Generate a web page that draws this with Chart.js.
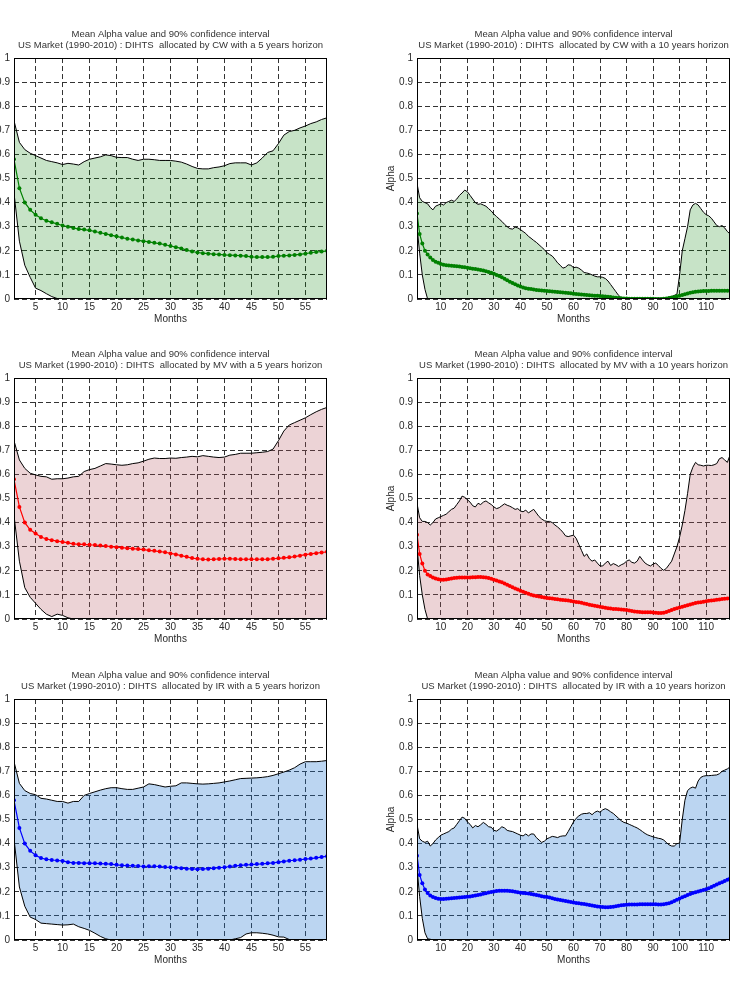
<!DOCTYPE html>
<html>
<head>
<meta charset="utf-8">
<script src="https://cdn.jsdelivr.net/npm/chart.js@4"></script>
<style>
  body { margin: 0; width: 740px; height: 995px; overflow: hidden; background: #fff; position: relative; }
  canvas { position: absolute; }
</style>
</head>
<body>
<canvas id="cw5" width="365" height="309" style="left:-33px;top:20px"></canvas>
<canvas id="cw10" width="365" height="309" style="left:370px;top:20px"></canvas>
<canvas id="mv5" width="365" height="309" style="left:-33px;top:340px"></canvas>
<canvas id="mv10" width="365" height="309" style="left:370px;top:340px"></canvas>
<canvas id="ir5" width="365" height="309" style="left:-33px;top:661px"></canvas>
<canvas id="ir10" width="365" height="309" style="left:370px;top:661px"></canvas>
<script>
// months on the x axis
const months5 = Array.from({ length: 59 }, (_, i) => i + 1);
const months10 = Array.from({ length: 119 }, (_, i) => i + 1);
const xTicks5 = [5, 10, 15, 20, 25, 30, 35, 40, 45, 50, 55];
const xTicks10 = [10, 20, 30, 40, 50, 60, 70, 80, 90, 100, 110];
const yTicks = [0, 0.1, 0.2, 0.3, 0.4, 0.5, 0.6, 0.7, 0.8, 0.9, 1];

// CW, 5 years
const cw5Mean = [
  0.58, 0.46, 0.40, 0.37, 0.35, 0.335, 0.325, 0.318, 0.312, 0.305,
  0.30, 0.295, 0.29, 0.288, 0.285, 0.28, 0.275, 0.27, 0.265, 0.26,
  0.255, 0.25, 0.247, 0.243, 0.24, 0.237, 0.233, 0.23, 0.225, 0.22,
  0.215, 0.21, 0.203, 0.197, 0.193, 0.19, 0.188, 0.186, 0.185, 0.183,
  0.182, 0.181, 0.18, 0.178, 0.175, 0.174, 0.174, 0.174, 0.175, 0.178,
  0.18, 0.181, 0.183, 0.185, 0.188, 0.192, 0.195, 0.197, 0.2
];
const cw5Upper = [
  0.74, 0.65, 0.62, 0.605, 0.595, 0.585, 0.575, 0.57, 0.565, 0.558,
  0.563, 0.56, 0.556, 0.57, 0.58, 0.585, 0.59, 0.598, 0.595, 0.588,
  0.587, 0.587, 0.58, 0.575, 0.58, 0.58, 0.578, 0.575, 0.575, 0.575,
  0.572, 0.568, 0.56, 0.55, 0.542, 0.54, 0.54, 0.545, 0.548, 0.553,
  0.562, 0.565, 0.565, 0.565, 0.556, 0.565, 0.585, 0.608, 0.615, 0.645,
  0.68, 0.695, 0.7, 0.71, 0.718, 0.728, 0.735, 0.745, 0.752
];
const cw5Lower = [
  0.44, 0.24, 0.14, 0.09, 0.045, 0.035, 0.022, 0.01, 0.002, 0,
  0, 0, 0, 0, 0, 0, 0, 0, 0, 0,
  0, 0, 0, 0, 0, 0, 0, 0, 0, 0,
  0, 0, 0, 0, 0, 0, 0, 0, 0, 0,
  0, 0, 0, 0, 0, 0, 0, 0, 0, 0,
  0, 0, 0, 0, 0, 0, 0, 0, 0
];

// CW, 10 years
const cw10Mean = [
  0.355, 0.27, 0.23, 0.20, 0.185, 0.172, 0.162, 0.155, 0.15, 0.145,
  0.142, 0.14, 0.139, 0.138, 0.137, 0.136, 0.135, 0.133, 0.132, 0.13,
  0.128, 0.126, 0.124, 0.122, 0.12, 0.118, 0.115, 0.112, 0.109, 0.105,
  0.10, 0.095, 0.09, 0.084, 0.078, 0.072, 0.066, 0.061, 0.056, 0.052,
  0.048, 0.045, 0.043, 0.041, 0.039, 0.037, 0.036, 0.035, 0.034, 0.033,
  0.032, 0.031, 0.03, 0.029, 0.028, 0.027, 0.026, 0.025, 0.024, 0.022,
  0.021, 0.02, 0.019, 0.018, 0.017, 0.016, 0.015, 0.014, 0.013, 0.012,
  0.011, 0.01, 0.009, 0.008, 0.006, 0.005, 0.004, 0.003, 0.002, 0.002,
  0.001, 0.001, 0.001, 0.001, 0.001, 0.001, 0.001, 0.001, 0.001, 0.001,
  0, 0, 0, 0.001, 0.002, 0.004, 0.006, 0.008, 0.011, 0.014,
  0.017, 0.02, 0.023, 0.026, 0.028, 0.03, 0.031, 0.032, 0.033, 0.033,
  0.033, 0.034, 0.034, 0.034, 0.034, 0.034, 0.034, 0.034, 0.034
];
const cw10Upper = [
  0.48, 0.42, 0.405, 0.40, 0.395, 0.38, 0.37, 0.385, 0.39, 0.395,
  0.39, 0.40, 0.405, 0.41, 0.405, 0.415, 0.43, 0.44, 0.452, 0.445,
  0.43, 0.415, 0.40, 0.393, 0.395, 0.39, 0.385, 0.375, 0.365, 0.352,
  0.342, 0.332, 0.322, 0.31, 0.30, 0.292, 0.29, 0.298, 0.295, 0.288,
  0.28, 0.272, 0.26, 0.252, 0.243, 0.235, 0.225, 0.215, 0.205, 0.192,
  0.185, 0.178, 0.165, 0.15, 0.14, 0.128, 0.132, 0.142, 0.14, 0.13,
  0.132, 0.128, 0.12, 0.11, 0.108, 0.105, 0.10, 0.095, 0.092, 0.092,
  0.09, 0.085, 0.075, 0.06, 0.045, 0.03, 0.015, 0.005, 0.003, 0.003,
  0.003, 0.003, 0.003, 0.003, 0.003, 0.003, 0.003, 0.003, 0.003, 0.003,
  0.003, 0.003, 0.003, 0.003, 0.005, 0.008, 0.01, 0.015, 0.02, 0.1,
  0.2, 0.25, 0.30, 0.37, 0.39, 0.397, 0.39, 0.375, 0.36, 0.35,
  0.345, 0.335, 0.32, 0.305, 0.30, 0.305, 0.295, 0.28, 0.27
];
const cw10Lower = [
  0.3, 0.19, 0.1, 0.04, 0, 0, 0, 0, 0, 0,
  0, 0, 0, 0, 0, 0, 0, 0, 0, 0,
  0, 0, 0, 0, 0, 0, 0, 0, 0, 0,
  0, 0, 0, 0, 0, 0, 0, 0, 0, 0,
  0, 0, 0, 0, 0, 0, 0, 0, 0, 0,
  0, 0, 0, 0, 0, 0, 0, 0, 0, 0,
  0, 0, 0, 0, 0, 0, 0, 0, 0, 0,
  0, 0, 0, 0, 0, 0, 0, 0, 0, 0,
  0, 0, 0, 0, 0, 0, 0, 0, 0, 0,
  0, 0, 0, 0, 0, 0, 0, 0, 0, 0,
  0, 0, 0, 0, 0, 0, 0, 0, 0, 0,
  0, 0, 0, 0, 0, 0, 0, 0, 0
];

// MV, 5 years
const mv5Mean = [
  0.58, 0.465, 0.40, 0.37, 0.355, 0.34, 0.332, 0.327, 0.323, 0.32,
  0.316, 0.312, 0.31, 0.31, 0.308, 0.307, 0.305, 0.303, 0.30, 0.298,
  0.296, 0.294, 0.292, 0.29, 0.288, 0.285, 0.283, 0.28, 0.277, 0.272,
  0.268, 0.263, 0.258, 0.253, 0.25, 0.248, 0.247, 0.248, 0.249, 0.25,
  0.25, 0.249, 0.248, 0.248, 0.248, 0.248, 0.248, 0.248, 0.25, 0.252,
  0.254, 0.256, 0.259, 0.263, 0.267, 0.27, 0.273, 0.276, 0.279
];
const mv5Upper = [
  0.74, 0.66, 0.625, 0.605, 0.598, 0.592, 0.59, 0.58, 0.582, 0.582,
  0.585, 0.59, 0.592, 0.612, 0.62, 0.625, 0.635, 0.645, 0.643, 0.64,
  0.638, 0.64, 0.645, 0.648, 0.655, 0.663, 0.668, 0.666, 0.666, 0.668,
  0.667, 0.67, 0.672, 0.675, 0.673, 0.678, 0.675, 0.672, 0.67, 0.672,
  0.68, 0.683, 0.688, 0.688, 0.688, 0.69, 0.692, 0.695, 0.705, 0.74,
  0.78, 0.805, 0.815, 0.825, 0.835, 0.848, 0.86, 0.87, 0.878
];
const mv5Lower = [
  0.43, 0.24, 0.13, 0.09, 0.065, 0.04, 0.02, 0.01, 0.02, 0.015,
  0.005, 0, 0, 0, 0, 0, 0, 0, 0, 0,
  0, 0, 0, 0, 0, 0, 0, 0, 0, 0,
  0, 0, 0, 0, 0, 0, 0, 0, 0, 0,
  0, 0, 0, 0, 0, 0, 0, 0, 0, 0,
  0, 0, 0, 0, 0, 0, 0, 0, 0
];

// MV, 10 years
const mv10Mean = [
  0.35, 0.27, 0.23, 0.20, 0.185, 0.178, 0.172, 0.168, 0.165, 0.163,
  0.163, 0.164, 0.166, 0.168, 0.17, 0.171, 0.172, 0.172, 0.172, 0.172,
  0.172, 0.173, 0.173, 0.174, 0.174, 0.173, 0.172, 0.17, 0.167, 0.163,
  0.16, 0.156, 0.152, 0.147, 0.142, 0.137, 0.132, 0.127, 0.122, 0.117,
  0.113, 0.109, 0.105, 0.101, 0.098, 0.095, 0.093, 0.091, 0.089, 0.087,
  0.086, 0.085, 0.083, 0.082, 0.08, 0.079, 0.078, 0.077, 0.075, 0.073,
  0.071, 0.069, 0.067, 0.064, 0.062, 0.059, 0.057, 0.055, 0.053, 0.051,
  0.049, 0.047, 0.045, 0.044, 0.042, 0.041, 0.04, 0.039, 0.038, 0.037,
  0.035, 0.033, 0.031, 0.03, 0.029, 0.028, 0.028, 0.028, 0.028, 0.027,
  0.026, 0.025, 0.025, 0.026, 0.029, 0.033, 0.037, 0.041, 0.045, 0.048,
  0.051, 0.054, 0.057, 0.06, 0.063, 0.066, 0.068, 0.07, 0.072, 0.074,
  0.076, 0.077, 0.078, 0.08, 0.081, 0.083, 0.084, 0.085, 0.086
];
const mv10Upper = [
  0.48, 0.42, 0.405, 0.405, 0.40, 0.39, 0.40, 0.415, 0.42, 0.425,
  0.43, 0.435, 0.445, 0.455, 0.46, 0.475, 0.49, 0.51, 0.505, 0.495,
  0.485, 0.47, 0.465, 0.48, 0.475, 0.485, 0.49, 0.482, 0.475, 0.465,
  0.458, 0.462, 0.47, 0.478, 0.472, 0.468, 0.462, 0.455, 0.458, 0.448,
  0.445, 0.452, 0.44, 0.448, 0.455, 0.44, 0.425, 0.415, 0.408, 0.405,
  0.405, 0.40, 0.39, 0.382, 0.372, 0.36, 0.345, 0.342, 0.345, 0.348,
  0.335, 0.31, 0.285, 0.26, 0.27, 0.25, 0.24, 0.245, 0.232, 0.22,
  0.22, 0.232, 0.24, 0.222, 0.23, 0.225, 0.218, 0.225, 0.23, 0.24,
  0.245, 0.235, 0.232, 0.24, 0.26, 0.245, 0.232, 0.225, 0.22, 0.228,
  0.232, 0.222, 0.21, 0.202, 0.21, 0.225, 0.24, 0.27, 0.30, 0.34,
  0.39, 0.45, 0.52, 0.60, 0.63, 0.65, 0.64, 0.638, 0.635, 0.638,
  0.638, 0.637, 0.64, 0.645, 0.665, 0.67, 0.66, 0.65, 0.68
];
const mv10Lower = [
  0.3, 0.18, 0.1, 0.04, 0, 0, 0, 0, 0, 0,
  0, 0, 0, 0, 0, 0, 0, 0, 0, 0,
  0, 0, 0, 0, 0, 0, 0, 0, 0, 0,
  0, 0, 0, 0, 0, 0, 0, 0, 0, 0,
  0, 0, 0, 0, 0, 0, 0, 0, 0, 0,
  0, 0, 0, 0, 0, 0, 0, 0, 0, 0,
  0, 0, 0, 0, 0, 0, 0, 0, 0, 0,
  0, 0, 0, 0, 0, 0, 0, 0, 0, 0,
  0, 0, 0, 0, 0, 0, 0, 0, 0, 0,
  0, 0, 0, 0, 0, 0, 0, 0, 0, 0,
  0, 0, 0, 0, 0, 0, 0, 0, 0, 0,
  0, 0, 0, 0, 0, 0, 0, 0, 0
];

// IR, 5 years
const ir5Mean = [
  0.58, 0.465, 0.40, 0.37, 0.352, 0.34, 0.335, 0.332, 0.33, 0.328,
  0.323, 0.32, 0.32, 0.319, 0.319, 0.318, 0.317, 0.316, 0.315, 0.312,
  0.31, 0.309, 0.308, 0.307, 0.305, 0.306, 0.306, 0.305, 0.303, 0.302,
  0.30, 0.298, 0.296, 0.295, 0.294, 0.295, 0.296, 0.298, 0.30, 0.302,
  0.305, 0.308, 0.31, 0.312, 0.313, 0.315, 0.316, 0.318, 0.32, 0.323,
  0.326, 0.329, 0.331, 0.333, 0.336, 0.338, 0.341, 0.344, 0.348
];
const ir5Upper = [
  0.74, 0.65, 0.62, 0.608, 0.603, 0.588, 0.585, 0.58, 0.575, 0.575,
  0.568, 0.575, 0.575, 0.60, 0.608, 0.615, 0.622, 0.628, 0.632, 0.632,
  0.628, 0.625, 0.625, 0.63, 0.635, 0.648, 0.645, 0.64, 0.635, 0.638,
  0.64, 0.652, 0.652, 0.65, 0.648, 0.647, 0.648, 0.65, 0.652, 0.656,
  0.66, 0.665, 0.67, 0.671, 0.672, 0.673, 0.675, 0.678, 0.683, 0.69,
  0.697, 0.705, 0.715, 0.73, 0.74, 0.74, 0.74, 0.742, 0.745
];
const ir5Lower = [
  0.42, 0.22, 0.14, 0.095, 0.085, 0.07, 0.068, 0.066, 0.064, 0.062,
  0.063, 0.066, 0.055, 0.048, 0.04, 0.028, 0.015, 0.005, 0, 0,
  0, 0, 0, 0, 0, 0, 0, 0, 0, 0,
  0, 0, 0, 0, 0, 0, 0, 0, 0, 0,
  0, 0.005, 0.01, 0.025, 0.03, 0.03, 0.028, 0.025, 0.02, 0.013,
  0.012, 0.002, 0, 0, 0, 0.002, 0, 0, 0
];

// IR, 10 years
const ir10Mean = [
  0.35, 0.27, 0.235, 0.21, 0.195, 0.185, 0.178, 0.174, 0.171, 0.17,
  0.17, 0.171, 0.172, 0.173, 0.174, 0.175, 0.176, 0.177, 0.178, 0.179,
  0.181, 0.183, 0.185, 0.187, 0.189, 0.192, 0.194, 0.197, 0.199, 0.201,
  0.203, 0.204, 0.204, 0.204, 0.204, 0.203, 0.202, 0.20, 0.198, 0.196,
  0.195, 0.194, 0.193, 0.191, 0.189, 0.187, 0.185, 0.182, 0.18, 0.178,
  0.176, 0.173, 0.17, 0.168, 0.166, 0.164, 0.162, 0.16, 0.158, 0.156,
  0.154, 0.152, 0.15, 0.149, 0.147, 0.145, 0.143, 0.141, 0.139, 0.138,
  0.137, 0.136, 0.136, 0.137, 0.138, 0.14, 0.142, 0.144, 0.145, 0.146,
  0.147, 0.147, 0.147, 0.147, 0.148, 0.148, 0.148, 0.148, 0.148, 0.148,
  0.148, 0.147, 0.147, 0.148, 0.15, 0.153, 0.157, 0.162, 0.167, 0.172,
  0.177, 0.182, 0.187, 0.191, 0.195, 0.198, 0.201, 0.204, 0.207, 0.211,
  0.215, 0.22, 0.225, 0.23, 0.235, 0.24, 0.245, 0.25, 0.255
];
const ir10Upper = [
  0.48, 0.42, 0.41, 0.405, 0.41, 0.39, 0.40, 0.415, 0.425, 0.435,
  0.44, 0.445, 0.45, 0.46, 0.465, 0.48, 0.495, 0.51, 0.505, 0.49,
  0.48, 0.465, 0.475, 0.47, 0.478, 0.488, 0.48, 0.47, 0.468, 0.455,
  0.452, 0.46, 0.47, 0.465, 0.455, 0.452, 0.45, 0.445, 0.44, 0.435,
  0.432, 0.44, 0.432, 0.44, 0.44, 0.425, 0.415, 0.405, 0.41, 0.42,
  0.425, 0.43, 0.428, 0.425, 0.43, 0.432, 0.432, 0.45, 0.47, 0.49,
  0.505, 0.515, 0.522, 0.525, 0.525, 0.528, 0.52, 0.53, 0.535, 0.53,
  0.54, 0.545, 0.54, 0.532, 0.525, 0.515, 0.505, 0.495, 0.488, 0.485,
  0.48, 0.475, 0.47, 0.465, 0.458, 0.45, 0.442, 0.436, 0.432, 0.428,
  0.425, 0.422, 0.42, 0.415, 0.405, 0.395, 0.39, 0.39, 0.40, 0.402,
  0.50, 0.58, 0.62, 0.63, 0.635, 0.63, 0.66, 0.675, 0.68, 0.682,
  0.682, 0.683, 0.684, 0.685, 0.69, 0.70, 0.705, 0.71, 0.718
];
const ir10Lower = [
  0.3, 0.18, 0.09, 0.03, 0.005, 0.003, 0.001, 0, 0, 0,
  0, 0, 0, 0, 0, 0, 0, 0, 0, 0,
  0, 0, 0, 0, 0, 0, 0, 0, 0, 0,
  0, 0, 0, 0, 0, 0, 0, 0, 0, 0,
  0, 0, 0, 0, 0, 0, 0, 0, 0, 0,
  0, 0, 0, 0, 0, 0, 0, 0, 0, 0,
  0, 0, 0, 0, 0, 0, 0, 0, 0, 0,
  0, 0, 0, 0, 0, 0, 0, 0, 0, 0,
  0, 0, 0, 0, 0, 0, 0, 0, 0, 0,
  0, 0, 0, 0, 0, 0, 0, 0, 0, 0,
  0, 0, 0, 0, 0, 0, 0, 0, 0, 0,
  0, 0, 0, 0, 0, 0, 0, 0, 0
];

Chart.defaults.font.family = "'Liberation Sans', Arial, sans-serif";
Chart.defaults.font.size = 10;
Chart.defaults.color = '#2a2a2a';

// black box round the plot area
const frame = {
  id: 'frame',
  afterDatasetsDraw(chart) {
    const { ctx, chartArea: a } = chart;
    ctx.save();
    ctx.strokeStyle = '#000';
    ctx.lineWidth = 1;
    ctx.strokeRect(Math.round(a.left) + 0.5, Math.round(a.top) + 0.5,
      Math.round(a.right - a.left) - 1, Math.round(a.bottom - a.top) - 1);
    ctx.restore();
  }
};

function makeChart(id, months, xTicks, mean, upper, lower, lineColor, fillColor, method, years) {
  const ctx = document.getElementById(id).getContext('2d');
  return new Chart(ctx, {
    type: 'line',
    data: {
      labels: months,
      datasets: [{
        data: mean,
        borderColor: lineColor,
        backgroundColor: lineColor,
        borderWidth: 1.2,
        pointRadius: 2,
        pointBorderWidth: 0,
        pointBackgroundColor: lineColor,
        fill: false,
        order: 0
      }, {
        data: upper,
        borderColor: '#000',
        borderWidth: 1,
        pointRadius: 0,
        backgroundColor: fillColor,
        fill: '+1',
        order: 1
      }, {
        data: lower,
        borderColor: '#000',
        borderWidth: 1,
        pointRadius: 0,
        fill: false,
        order: 2
      }]
    },
    options: {
      responsive: false,
      animation: false,
      layout: { padding: { left: 0, right: 5, top: 0, bottom: 0 } },
      plugins: {
        legend: { display: false },
        tooltip: { enabled: false },
        filler: { drawTime: 'beforeDatasetsDraw' },
        title: {
          display: true,
          fullSize: false,
          text: ['Mean Alpha value and 90% confidence interval',
            'US Market (1990-2010) : DIHTS  allocated by ' + method + ' with a ' + years + ' years horizon'],
          font: { size: 9.5, weight: 'normal', lineHeight: 1.16 },
          color: '#333',
          padding: { top: 9, bottom: 7 }
        }
      },
      scales: {
        x: {
          type: 'linear',
          min: 1,
          max: months[months.length - 1],
          afterBuildTicks: s => { s.ticks = xTicks.map(v => ({ value: v })); },
          afterFit: s => { s.height = 30; },
          grid: { color: '#333', lineWidth: 1, drawTicks: false },
          border: { display: false, dash: [5, 3] },
          ticks: { padding: 2, maxRotation: 0, autoSkip: false },
          title: { display: true, text: 'Months', padding: { top: 0, bottom: 4 } }
        },
        y: {
          min: 0,
          max: 1,
          afterBuildTicks: s => { s.ticks = yTicks.map(v => ({ value: v })); },
          afterFit: s => { s.width = 47; },
          grid: { color: '#333', lineWidth: 1, drawTicks: false },
          border: { display: false, dash: [5, 3] },
          ticks: { padding: 4, callback: v => String(v) },
          title: { display: true, text: 'Alpha', padding: { top: 15, bottom: 0 } }
        }
      }
    },
    plugins: [frame]
  });
}

makeChart('cw5', months5, xTicks5, cw5Mean, cw5Upper, cw5Lower, '#008000', 'rgba(0,128,0,0.22)', 'CW', 5);
makeChart('cw10', months10, xTicks10, cw10Mean, cw10Upper, cw10Lower, '#008000', 'rgba(0,128,0,0.22)', 'CW', 10);
makeChart('mv5', months5, xTicks5, mv5Mean, mv5Upper, mv5Lower, '#ff0000', 'rgba(180,80,90,0.25)', 'MV', 5);
makeChart('mv10', months10, xTicks10, mv10Mean, mv10Upper, mv10Lower, '#ff0000', 'rgba(180,80,90,0.25)', 'MV', 10);
makeChart('ir5', months5, xTicks5, ir5Mean, ir5Upper, ir5Lower, '#0000ff', 'rgba(30,115,210,0.3)', 'IR', 5);
makeChart('ir10', months10, xTicks10, ir10Mean, ir10Upper, ir10Lower, '#0000ff', 'rgba(30,115,210,0.3)', 'IR', 10);
</script>
</body>
</html>
